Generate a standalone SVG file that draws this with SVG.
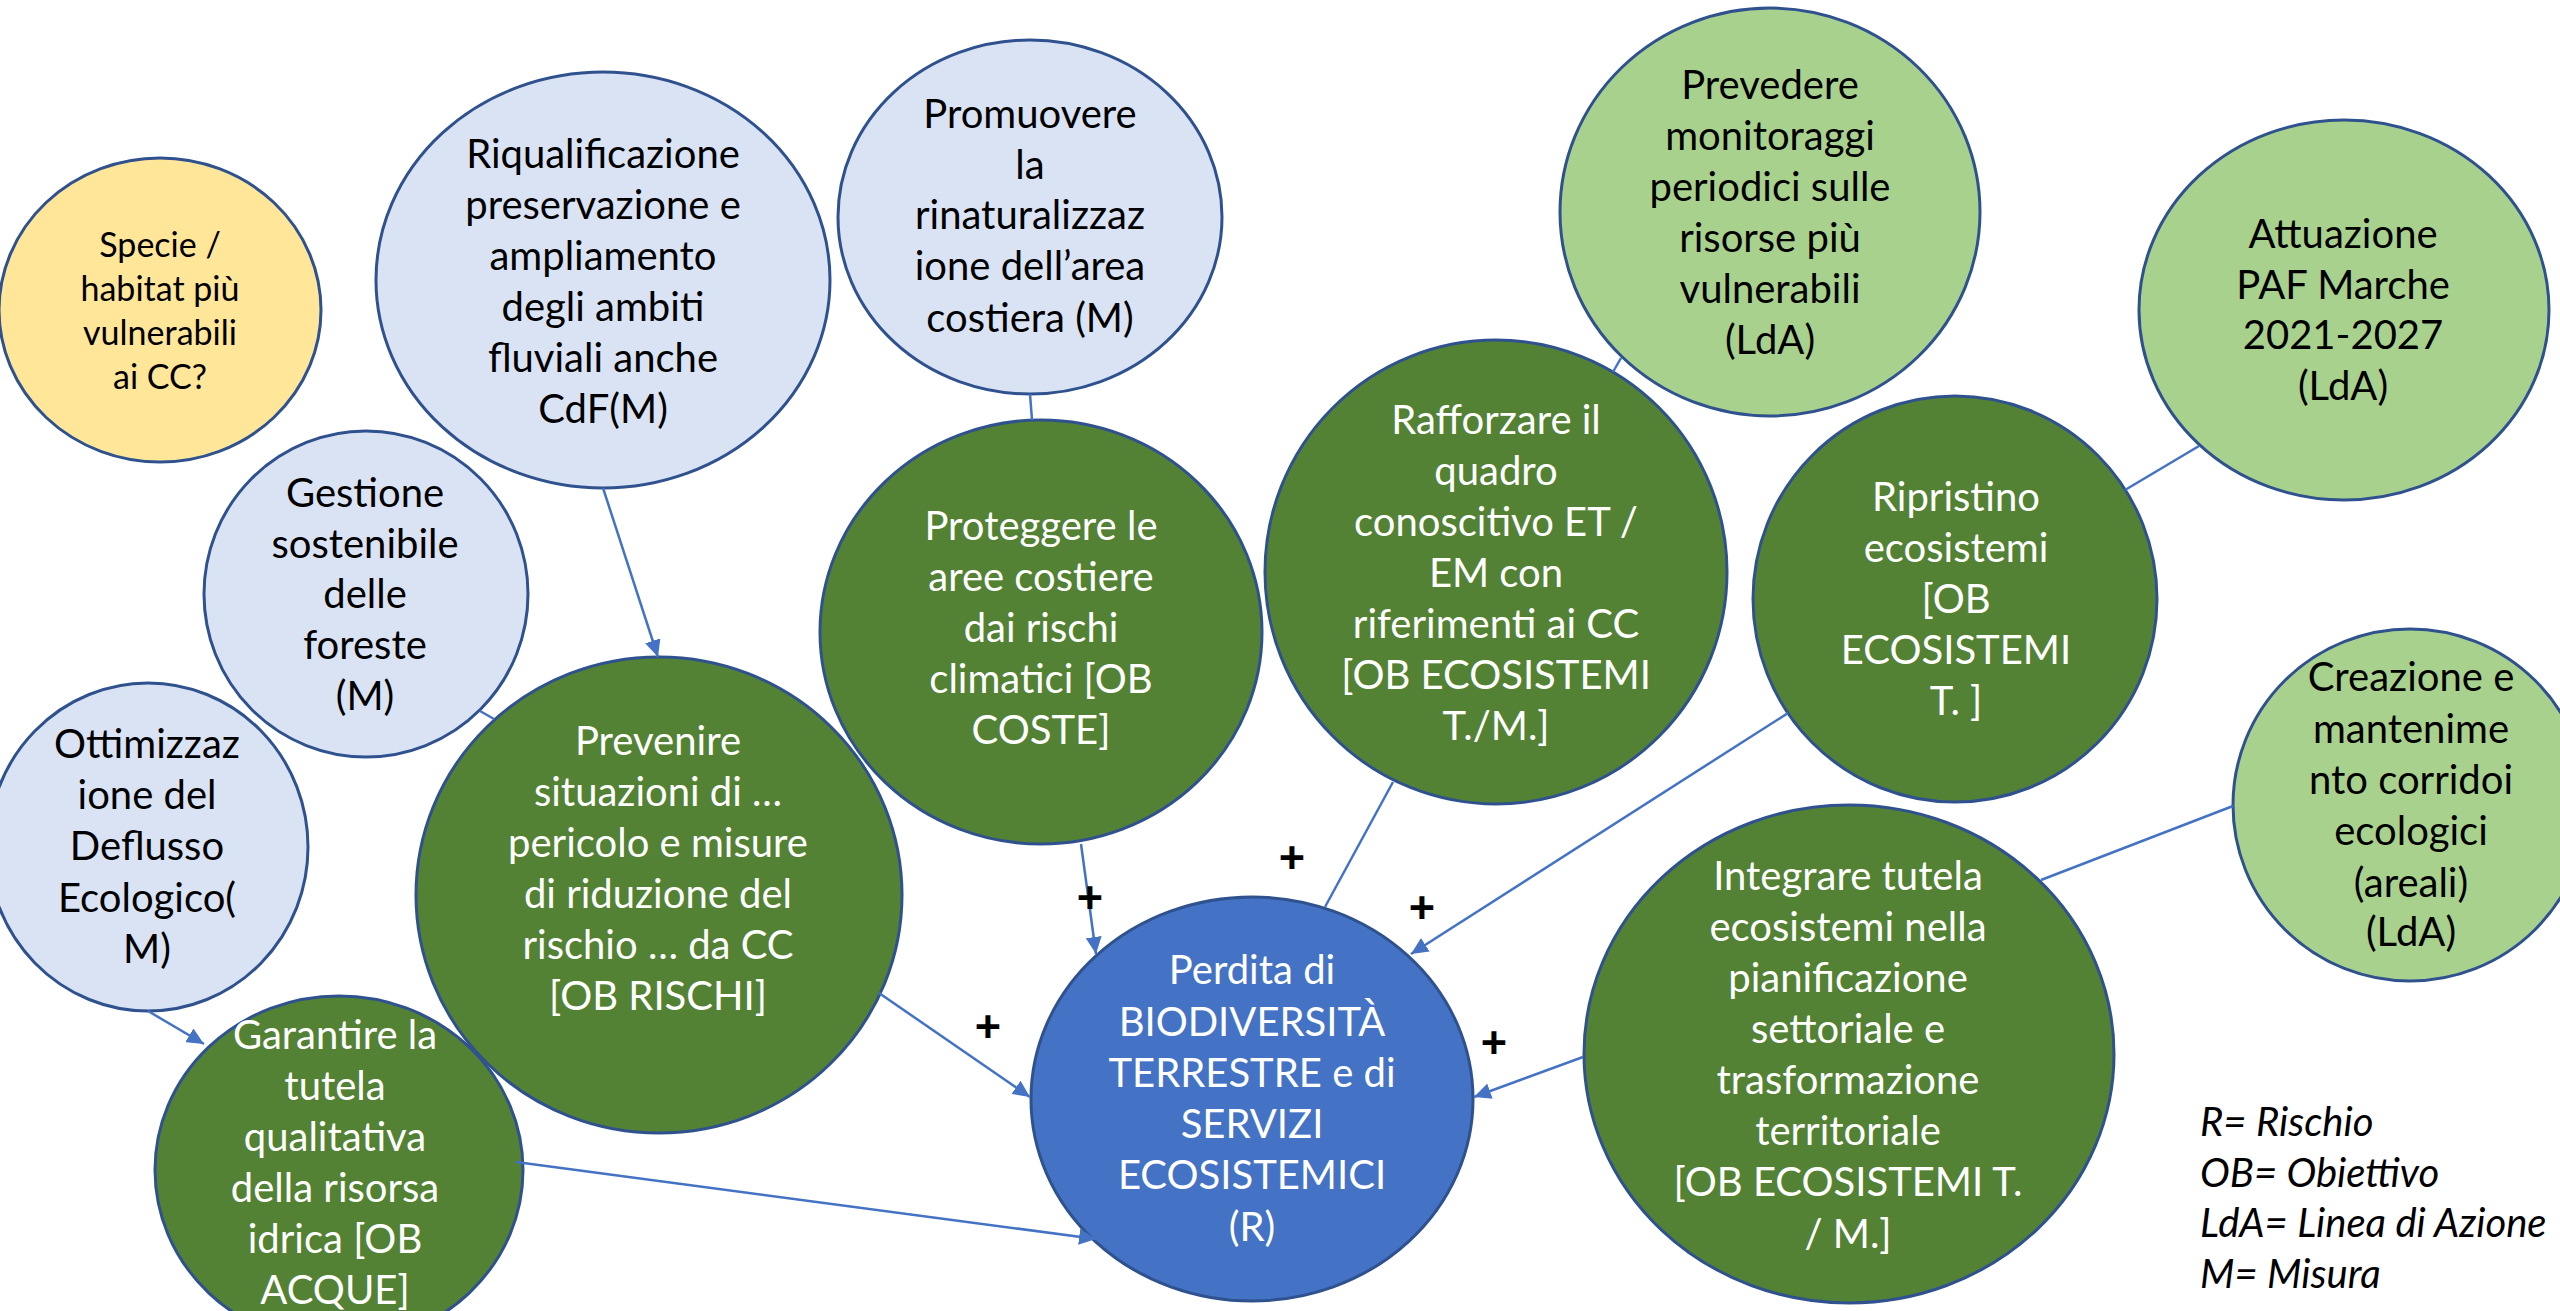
<svg xmlns="http://www.w3.org/2000/svg" width="2560" height="1311" viewBox="0 0 2560 1311">
<style>
  .node { stroke: #2F528F; stroke-width: 3; }
  .lb { fill: #DAE3F3; }
  .yl { fill: #FFE699; }
  .lg { fill: #A9D18E; }
  .dg { fill: #548235; }
  .bl { fill: #4472C4; }
  text { font-family: Lato, "Liberation Sans", sans-serif; font-size: 40px; text-anchor: middle; }
  .dk { fill: #000000; }
  .wt { fill: #FFFFFF; }
  .sm { font-size: 34px; }
  .conn line { stroke: #4472C4; stroke-width: 2.5; fill: none; }
  .plus { font-family: "Liberation Sans", Arial, sans-serif; font-weight: bold; font-size: 45px; fill: #000000; }
  .legend text { font-style: italic; text-anchor: start; fill: #000000; }
</style>
<defs>
  <marker id="arr" markerUnits="userSpaceOnUse" markerWidth="19" markerHeight="16" refX="17" refY="8" orient="auto">
    <path d="M0,0 L17,8 L0,16 Z" fill="#4472C4"/>
  </marker>
</defs>

<g id="n-specie">
  <ellipse class="node yl" cx="160" cy="310" rx="161" ry="152"/>
  <text class="dk sm" x="160"><tspan x="160" y="257">Specie /</tspan><tspan x="160" y="301">habitat più</tspan><tspan x="160" y="345">vulnerabili</tspan><tspan x="160" y="389">ai CC?</tspan></text>
</g>

<g id="n-riqualificazione">
  <ellipse class="node lb" cx="603" cy="280" rx="227" ry="208"/>
  <text class="dk"><tspan x="603" y="168">Riqualificazione</tspan><tspan x="603" y="219">preservazione e</tspan><tspan x="603" y="270">ampliamento</tspan><tspan x="603" y="321">degli ambiti</tspan><tspan x="603" y="372">fluviali anche</tspan><tspan x="603" y="423">CdF(M)</tspan></text>
</g>

<g id="n-gestione">
  <ellipse class="node lb" cx="366" cy="594" rx="162" ry="163"/>
  <text class="dk"><tspan x="365" y="507">Gestione</tspan><tspan x="365" y="558">sostenibile</tspan><tspan x="365" y="608">delle</tspan><tspan x="365" y="659">foreste</tspan><tspan x="365" y="710">(M)</tspan></text>
</g>

<g id="n-ottimizzazione">
  <ellipse class="node lb" cx="148" cy="847" rx="160" ry="164"/>
  <text class="dk"><tspan x="147" y="758">Ottimizzaz</tspan><tspan x="147" y="809">ione del</tspan><tspan x="147" y="860">Deflusso</tspan><tspan x="147" y="912">Ecologico(</tspan><tspan x="147" y="963">M)</tspan></text>
</g>

<g id="n-prevenire">
  <ellipse class="node dg" cx="659" cy="895" rx="243" ry="238"/>
  <text class="wt"><tspan x="658" y="755">Prevenire</tspan><tspan x="658" y="806">situazioni di …</tspan><tspan x="658" y="857">pericolo e misure</tspan><tspan x="658" y="908">di riduzione del</tspan><tspan x="658" y="959">rischio … da CC</tspan><tspan x="658" y="1010">[OB RISCHI]</tspan></text>
</g>

<g id="n-garantire">
  <ellipse class="node dg" cx="339" cy="1170" rx="184" ry="174"/>
  <text class="wt"><tspan x="335" y="1049">Garantire la</tspan><tspan x="335" y="1100">tutela</tspan><tspan x="335" y="1151">qualitativa</tspan><tspan x="335" y="1202">della risorsa</tspan><tspan x="335" y="1253">idrica [OB</tspan><tspan x="335" y="1304">ACQUE]</tspan></text>
</g>

<g id="n-promuovere">
  <ellipse class="node lb" cx="1030" cy="217" rx="192" ry="177"/>
  <text class="dk"><tspan x="1030" y="128">Promuovere</tspan><tspan x="1030" y="179">la</tspan><tspan x="1030" y="229">rinaturalizzaz</tspan><tspan x="1030" y="280">ione dell’area</tspan><tspan x="1030" y="332">costiera (M)</tspan></text>
</g>

<g id="n-proteggere">
  <ellipse class="node dg" cx="1041" cy="632" rx="221" ry="212"/>
  <text class="wt"><tspan x="1041" y="540">Proteggere le</tspan><tspan x="1041" y="591">aree costiere</tspan><tspan x="1041" y="642">dai rischi</tspan><tspan x="1041" y="693">climatici [OB</tspan><tspan x="1041" y="744">COSTE]</tspan></text>
</g>

<g id="n-prevedere">
  <ellipse class="node lg" cx="1770" cy="212" rx="210" ry="204"/>
  <text class="dk"><tspan x="1770" y="99">Prevedere</tspan><tspan x="1770" y="150">monitoraggi</tspan><tspan x="1770" y="201">periodici sulle</tspan><tspan x="1770" y="252">risorse più</tspan><tspan x="1770" y="303">vulnerabili</tspan><tspan x="1770" y="354">(LdA)</tspan></text>
</g>

<g id="n-rafforzare">
  <ellipse class="node dg" cx="1496" cy="572" rx="231" ry="232"/>
  <text class="wt"><tspan x="1496" y="434">Rafforzare il</tspan><tspan x="1496" y="485">quadro</tspan><tspan x="1496" y="536">conoscitivo ET /</tspan><tspan x="1496" y="587">EM con</tspan><tspan x="1496" y="638">riferimenti ai CC</tspan><tspan x="1496" y="689">[OB ECOSISTEMI</tspan><tspan x="1496" y="740">T./M.]</tspan></text>
</g>

<g id="n-attuazione">
  <ellipse class="node lg" cx="2344" cy="310" rx="205" ry="190"/>
  <text class="dk"><tspan x="2343" y="248">Attuazione</tspan><tspan x="2343" y="299">PAF Marche</tspan><tspan x="2343" y="349">2021-2027</tspan><tspan x="2343" y="400">(LdA)</tspan></text>
</g>

<g id="n-ripristino">
  <ellipse class="node dg" cx="1955" cy="599" rx="202" ry="203"/>
  <text class="wt"><tspan x="1956" y="511">Ripristino</tspan><tspan x="1956" y="562">ecosistemi</tspan><tspan x="1956" y="613">[OB</tspan><tspan x="1956" y="664">ECOSISTEMI</tspan><tspan x="1956" y="715">T. ]</tspan></text>
</g>

<g id="n-creazione">
  <ellipse class="node lg" cx="2410" cy="805" rx="177" ry="176"/>
  <text class="dk"><tspan x="2411" y="691">Creazione e</tspan><tspan x="2411" y="743">mantenime</tspan><tspan x="2411" y="794">nto corridoi</tspan><tspan x="2411" y="845">ecologici</tspan><tspan x="2411" y="897">(areali)</tspan><tspan x="2411" y="946">(LdA)</tspan></text>
</g>

<g id="n-integrare">
  <ellipse class="node dg" cx="1849" cy="1054" rx="265" ry="249"/>
  <text class="wt"><tspan x="1848" y="890">Integrare tutela</tspan><tspan x="1848" y="941">ecosistemi nella</tspan><tspan x="1848" y="992">pianificazione</tspan><tspan x="1848" y="1043">settoriale e</tspan><tspan x="1848" y="1094">trasformazione</tspan><tspan x="1848" y="1145">territoriale</tspan><tspan x="1848" y="1196">[OB ECOSISTEMI T.</tspan><tspan x="1848" y="1248">/ M.]</tspan></text>
</g>

<g id="n-perdita">
  <ellipse class="node bl" cx="1252" cy="1099" rx="221" ry="202"/>
  <text class="wt"><tspan x="1252" y="984">Perdita di</tspan><tspan x="1252" y="1036">BIODIVERSITÀ</tspan><tspan x="1252" y="1087">TERRESTRE e di</tspan><tspan x="1252" y="1138">SERVIZI</tspan><tspan x="1252" y="1189">ECOSISTEMICI</tspan><tspan x="1252" y="1241">(R)</tspan></text>
</g>

<g id="connectors" class="conn">
  <line x1="603" y1="488" x2="658" y2="657" marker-end="url(#arr)"/>
  <line x1="480" y1="711" x2="494" y2="719"/>
  <line x1="148" y1="1011" x2="204" y2="1044" marker-end="url(#arr)"/>
  <line x1="516" y1="1162" x2="1096" y2="1239" marker-end="url(#arr)"/>
  <line x1="879" y1="993" x2="1030" y2="1097" marker-end="url(#arr)"/>
  <line x1="1081" y1="844" x2="1096" y2="954" marker-end="url(#arr)"/>
  <line x1="1030" y1="394" x2="1032" y2="420"/>
  <line x1="1393" y1="782" x2="1325" y2="907"/>
  <line x1="1621" y1="358" x2="1613" y2="372"/>
  <line x1="1788" y1="713" x2="1411" y2="954" marker-end="url(#arr)"/>
  <line x1="2199" y1="446" x2="2125" y2="490"/>
  <line x1="1583" y1="1057" x2="1474" y2="1097" marker-end="url(#arr)"/>
  <line x1="2233" y1="806" x2="2041" y2="880"/>
</g>

<g id="signs">
  <text class="plus" x="1090" y="913">+</text>
  <text class="plus" x="1292" y="873">+</text>
  <text class="plus" x="1422" y="923">+</text>
  <text class="plus" x="988" y="1042">+</text>
  <text class="plus" x="1494" y="1058">+</text>
</g>

<g id="legend" class="legend">
  <text x="2200" y="1136">R= Rischio</text>
  <text x="2200" y="1187">OB= Obiettivo</text>
  <text x="2200" y="1237">LdA= Linea di Azione</text>
  <text x="2200" y="1288">M= Misura</text>
</g>
</svg>
